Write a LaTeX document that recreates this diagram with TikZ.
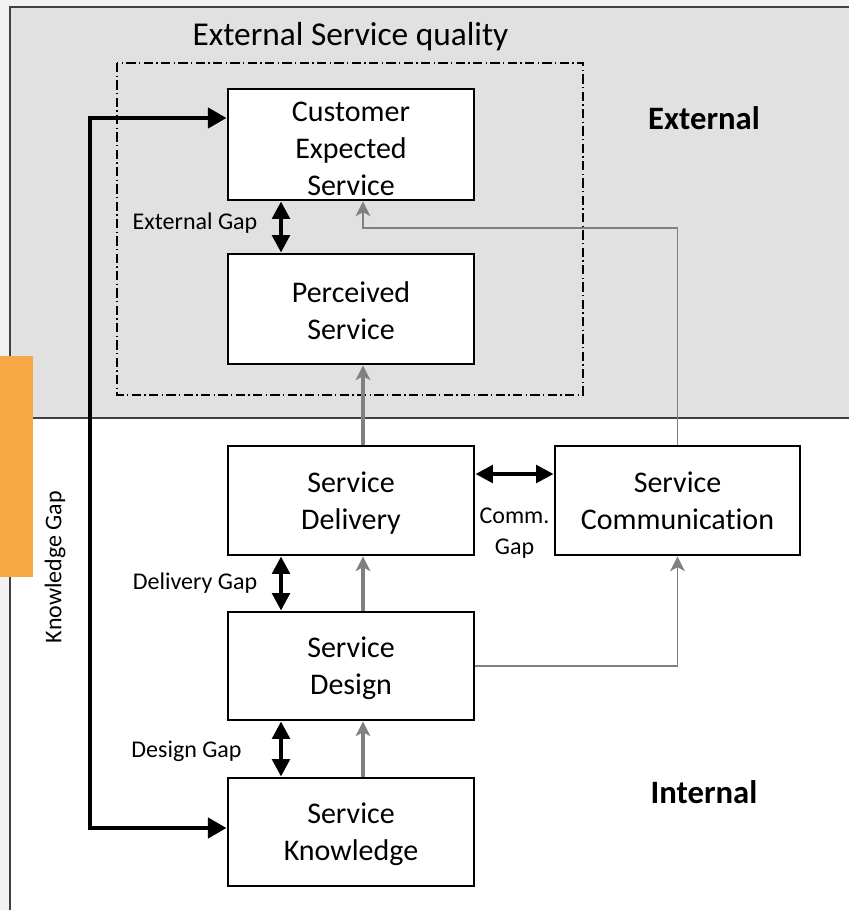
\documentclass[tikz,border=0pt]{standalone}
\usepackage{fontspec}
\setmainfont{Carlito}[Ligatures={NoCommon}]
\usetikzlibrary{arrows.meta}
\definecolor{bgout}{HTML}{F2F2F2}
\definecolor{bgext}{HTML}{E1E1E1}
\definecolor{framec}{HTML}{404040}
\definecolor{orangec}{HTML}{F5A843}
\definecolor{arrgray}{HTML}{808080}
\newcommand{\topstrut}[1]{\rule{0pt}{#1}}
\tikzset{
  box/.style={draw=black, line width=2.2pt, fill=white, align=center, inner sep=0pt,
    font=\fontsize{22.5}{27.75}\selectfont, minimum width=184.5pt, text depth=-2.5pt},
  gaplabel/.style={font=\fontsize{18}{21}\selectfont, inner sep=0pt},
  zonelabel/.style={font=\fontsize{24.5}{28}\selectfont\bfseries, inner sep=0pt},
  gaparrow/.style={line width=3pt, {Triangle[length=13pt,width=13pt]}-{Triangle[length=13pt,width=13pt]}},
  kgaparrow/.style={line width=3.4pt, {Triangle[length=14pt,width=15pt]}-{Triangle[length=14pt,width=15pt]}},
  grayarrow/.style={draw=arrgray, line width=2.3pt, -{Stealth[length=11pt,width=11pt,inset=3pt]}},
  thinarrow/.style={draw=arrgray, line width=1.4pt, -{Stealth[length=11pt,width=11pt,inset=3pt]}},
}
\begin{document}
\begin{tikzpicture}[x=0.75pt, y=-0.75pt]
\useasboundingbox (0,0) rectangle (849,910);
% background
\fill[bgout] (0,0) rectangle (849,910);
\fill[white] (10,7) rectangle (849,910);
\fill[bgext] (10,7) rectangle (849,418);
\draw[framec, line width=1.1pt] (849,7) -- (10,7) -- (10,910);
\draw[framec, line width=1.1pt] (10,418) -- (849,418);
% orange tab
\fill[orangec] (0,356) rectangle (33,577);
% dash-dot region
\draw[black, line width=1.1pt, dash pattern=on 7pt off 2.5pt on 1pt off 2.5pt] (117,63) rectangle (583,395);
\node[font=\fontsize{25}{30}\selectfont, inner sep=0pt] (title) at (350.5,37) {External Service quality};
% zone labels
\node[zonelabel] (ext) at (704,118) {External};
\node[zonelabel] (int) at (704,792) {Internal};
% boxes
\node[box, minimum height=83.25pt] (cust) at (351,144.5) {\topstrut{20.5pt}Customer\\Expected\\Service};
\node[box, minimum height=82.5pt] (perc) at (351,309) {\topstrut{17.5pt}Perceived\\Service};
\node[box, minimum height=81.75pt] (deliv) at (351,500.5) {Service\\Delivery};
\node[box, minimum height=81.75pt, minimum width=183.75pt] (comm) at (677.5,500.5) {Service\\Communication};
\node[box, minimum height=81pt] (design) at (351,666) {Service\\Design};
\node[box, minimum height=81pt] (know) at (351,832) {Service\\Knowledge};
% helper coordinates
\coordinate (gx) at (281,0);
\coordinate (ax) at (363,0);
\coordinate (cy) at (0,228);
\coordinate (cgy) at (0,474);
\coordinate (kx) at (90,0);
\coordinate (ky1) at (0,118);
\coordinate (ky2) at (0,828);
% gap arrows
\draw[gaparrow] (cust.south -| gx) -- (perc.north -| gx);
\draw[gaparrow] (deliv.south -| gx) -- (design.north -| gx);
\draw[gaparrow] (design.south -| gx) -- (know.north -| gx);
\draw[gaparrow] (deliv.east |- cgy) -- (comm.west |- cgy);
\draw[kgaparrow] (cust.west |- ky1) -- (ky1 -| kx) -- (ky2 -| kx) -- (know.west |- ky2);
% flow arrows
\draw[grayarrow] (deliv.north -| ax) -- (perc.south -| ax);
\draw[grayarrow] (design.north -| ax) -- (deliv.south -| ax);
\draw[grayarrow] (know.north -| ax) -- (design.south -| ax);
\draw[thinarrow] (comm.north) |- (cy -| ax) -- (cust.south -| ax);
\draw[thinarrow] (design.east) -| (comm.south);
% gap labels
\node[gaplabel] (lext) at (195,223) {External Gap};
\node[gaplabel] (ldel) at (195,583) {Delivery Gap};
\node[gaplabel] (ldes) at (186.5,751) {Design Gap};
\node[gaplabel, align=center, font=\fontsize{18}{23}\selectfont] (lcom) at (514.5,533) {Comm.\\Gap};
\node[gaplabel, rotate=90] (lkno) at (55,567) {Knowledge Gap};
\end{tikzpicture}
\end{document}
